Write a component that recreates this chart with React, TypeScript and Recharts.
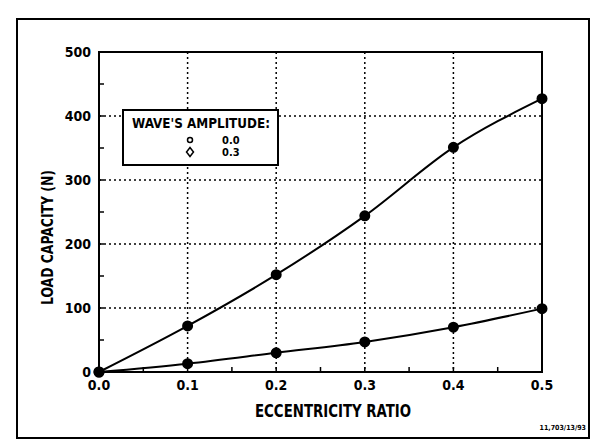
import React from 'react';
import {
  LineChart,
  Line,
  XAxis,
  YAxis,
  CartesianGrid,
  ReferenceArea,
} from 'recharts';

// eccentricity ratio (x) and load capacity in N for the two wave amplitudes
const eccentricity = [0, 0.1, 0.2, 0.3, 0.4, 0.5];
const loadAmp03 = [0, 72, 152, 244, 351, 427];
const loadAmp00 = [0, 13, 30, 47, 70, 99];

// axis ticks: labelled majors plus the small unlabelled minors
const xTicks = [0, 0.05, 0.1, 0.15, 0.2, 0.25, 0.3, 0.35, 0.4, 0.45, 0.5];
const yTicks = [0, 50, 100, 150, 200, 250, 300, 350, 400, 450, 500];
const xGrid = [0.1, 0.2, 0.3, 0.4];
const yGrid = [100, 200, 300, 400];

const legendTitle = "WAVE'S AMPLITUDE:";
const legendItems = ['0.0', '0.3'];

const data = eccentricity.map((x, i) => ({
  x,
  amp03: loadAmp03[i],
  amp00: loadAmp00[i],
}));

const FONT = "'DejaVu Sans Condensed', 'Liberation Sans Narrow', sans-serif";

const tickStyle = { fontFamily: FONT, fontSize: 14, fontWeight: 700, fill: '#000' };

const fmtX = (v: number) => (Math.round(v * 100) % 10 === 0 ? v.toFixed(1) : '');
const fmtY = (v: number) => (v % 100 === 0 ? String(v) : '');

export default function App() {
  return (
    <div style={{ position: 'absolute', left: 0, top: 0, width: 595, height: 445, background: '#fff' }}>
      <LineChart
        width={595}
        height={445}
        data={data}
        margin={{ top: 52, right: 53, bottom: 0, left: 0 }}
      >
        <CartesianGrid
          stroke="#000"
          strokeWidth={1.5}
          strokeDasharray="2 3"
          horizontalValues={yGrid}
          verticalValues={xGrid}
        />
        <XAxis
          type="number"
          dataKey="x"
          domain={[0, 0.5]}
          ticks={xTicks}
          tickFormatter={fmtX}
          height={73}
          axisLine={{ stroke: '#000', strokeWidth: 2 }}
          tickLine={{ stroke: '#000', strokeWidth: 1.5 }}
          tickSize={-5}
          tickMargin={13}
          tick={tickStyle}
        />
        <YAxis
          type="number"
          domain={[0, 500]}
          ticks={yTicks}
          tickFormatter={fmtY}
          width={99}
          axisLine={{ stroke: '#000', strokeWidth: 2 }}
          tickLine={{ stroke: '#000', strokeWidth: 1.5 }}
          tickSize={-5}
          tickMargin={13}
          tick={tickStyle}
        />
        <ReferenceArea x1={0} x2={0.5} y1={0} y2={500} fill="none" fillOpacity={0}
          stroke="#000" strokeWidth={2} />
        <Line type="monotone" dataKey="amp03" stroke="#000" strokeWidth={2}
          dot={{ r: 4.5, fill: '#000', stroke: '#000' }} isAnimationActive={false} />
        <Line type="monotone" dataKey="amp00" stroke="#000" strokeWidth={2}
          dot={{ r: 4.5, fill: '#000', stroke: '#000' }} isAnimationActive={false} />
      </LineChart>
      <svg width={595} height={445} style={{ position: 'absolute', left: 0, top: 0, pointerEvents: 'none' }}>
        <rect x={17} y={19} width={572} height={419} fill="none" stroke="#000" strokeWidth={2} />
        <text x={255} y={417} textLength={156} lengthAdjust="spacingAndGlyphs"
          fontFamily={FONT} fontSize={17} fontWeight={700} fill="#000">
          ECCENTRICITY RATIO
        </text>
        <text x={53} y={305} transform="rotate(-90 53 305)" textLength={135} lengthAdjust="spacingAndGlyphs"
          fontFamily={FONT} fontSize={16} fontWeight={700} fill="#000">
          LOAD CAPACITY  (N)
        </text>
        <rect x={123} y={110} width={155} height={55} fill="#fff" stroke="#000" strokeWidth={2} />
        <text x={132} y={128} textLength={138} lengthAdjust="spacingAndGlyphs"
          fontFamily={FONT} fontSize={14} fontWeight={700} fill="#000">
          {legendTitle}
        </text>
        <circle cx={190} cy={140} r={2.5} fill="none" stroke="#000" strokeWidth={1.5} />
        <path d="M190 147.5 L193.5 152 L190 156.5 L186.5 152 Z" fill="none" stroke="#000" strokeWidth={1.5} />
        <text x={222} y={144} fontFamily={FONT} fontSize={11} fontWeight={700} fill="#000">{legendItems[0]}</text>
        <text x={222} y={156} fontFamily={FONT} fontSize={11} fontWeight={700} fill="#000">{legendItems[1]}</text>
        <text x={586} y={430} textAnchor="end" fontFamily={FONT} fontSize={7} fontWeight={700} fill="#000">
          11,703/13/93
        </text>
      </svg>
    </div>
  );
}
